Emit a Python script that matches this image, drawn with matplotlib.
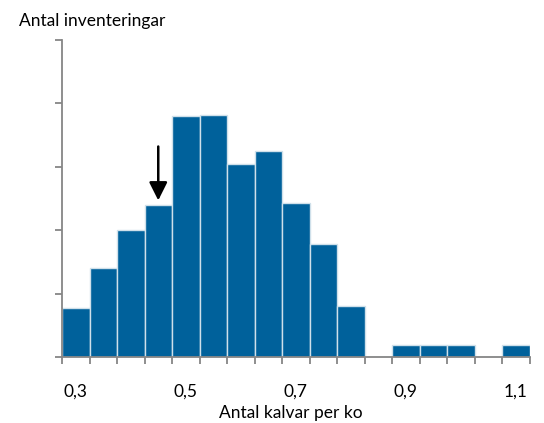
import matplotlib
matplotlib.use("Agg")
import matplotlib.pyplot as plt
import numpy as np

plt.rcParams['font.family'] = ['Lato', 'DejaVu Sans']

categories = ["0,3", "0,35", "0,4", "0,45", "0,5", "0,55", "0,6", "0,65", "0,7",
              "0,75", "0,8", "0,85", "0,9", "0,95", "1", "1,05", "1,1"]
counts = [3.9, 7.0, 10.0, 12.0, 19.0, 19.1, 15.25, 16.25, 12.15, 8.95, 4.0,
          0, 0.92, 0.92, 0.92, 0, 0.92]
shown_labels = {0: "0,3", 4: "0,5", 8: "0,7", 12: "0,9", 16: "1,1"}
arrow_cat = 3
arrow_from, arrow_to = 16.6, 12.35

fig = plt.figure(figsize=(5.44, 4.23), dpi=100)
ax = fig.add_axes([62/544, 1 - 357/423, (529.5 - 62)/544, (357 - 40)/423])

x = np.arange(len(categories))
ax.bar(x, counts, width=1.0, color="#00619B", edgecolor="#cfe0ea", linewidth=1.0, zorder=2)

ax.set_xlim(-0.5, len(categories) - 0.5)
ax.set_ylim(0, 25)

grey = "#868686"
for s in ["top", "right"]:
    ax.spines[s].set_visible(False)
for s in ["left", "bottom"]:
    ax.spines[s].set_color(grey)
    ax.spines[s].set_linewidth(1.3)
    ax.spines[s].set_zorder(3)

ax.set_yticks(np.arange(0, 26, 5))
ax.set_yticklabels([])
ax.tick_params(axis="y", direction="out", length=5, color=grey, width=1.3)

ax.set_xticks(np.arange(-0.5, len(categories), 1.0), minor=True)
ax.set_xticks(list(shown_labels.keys()))
ax.set_xticklabels(list(shown_labels.values()), fontsize=12.5)
ax.tick_params(axis="x", which="major", length=0, pad=19)
ax.tick_params(axis="x", which="minor", direction="out", length=5, color=grey, width=1.3)

ax.annotate("", xy=(arrow_cat, arrow_to), xytext=(arrow_cat, arrow_from),
            arrowprops=dict(arrowstyle="-|>,head_length=1.1,head_width=0.55",
                            color="black", lw=1.8, shrinkA=0, shrinkB=0), zorder=4)

fig.text(19/544, 1 - 21/423, "Antal inventeringar", fontsize=12.5, va="center", ha="left")
fig.text(291/544, 1 - 413/423, "Antal kalvar per ko", fontsize=12.5, va="center", ha="center")

fig.savefig("out.png", dpi=100)
